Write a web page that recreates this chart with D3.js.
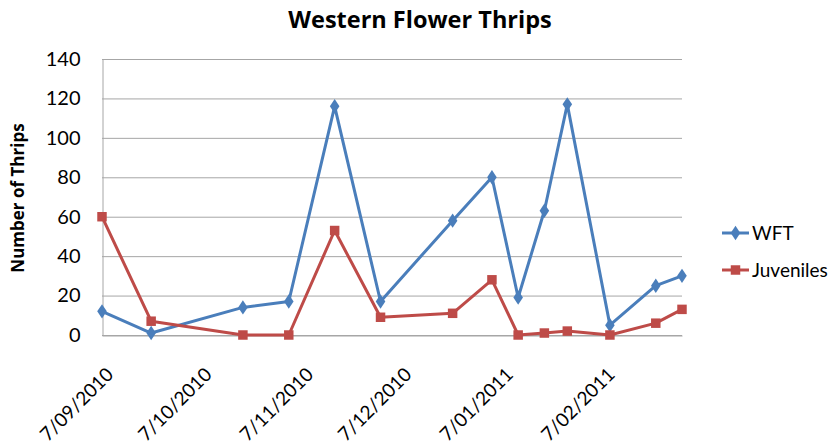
<!DOCTYPE html>
<html>
<head>
<meta charset="utf-8">
<script src="https://cdn.jsdelivr.net/npm/d3@7"></script>
<style>
  html, body { margin: 0; padding: 0; background: #fff; }
  svg { display: block; font-family: Lato, "Open Sans", sans-serif; }
</style>
</head>
<body>
<svg id="chart" width="840" height="448"></svg>
<script>
// Sampling dates (d/mm/yyyy) and thrip counts per sample
const sampleDates = ["7/09/2010", "22/09/2010", "20/10/2010", "3/11/2010", "17/11/2010",
  "1/12/2010", "23/12/2010", "4/01/2011", "12/01/2011", "20/01/2011", "27/01/2011",
  "9/02/2011", "23/02/2011", "3/03/2011"];
const wftCounts = [12, 1, 14, 17, 116, 17, 58, 80, 19, 63, 117, 5, 25, 30];
const juvenileCounts = [60, 7, 0, 0, 53, 9, 11, 28, 0, 1, 2, 0, 6, 13];
const xTickLabels = ["7/09/2010", "7/10/2010", "7/11/2010", "7/12/2010", "7/01/2011", "7/02/2011"];
const yTickValues = [0, 20, 40, 60, 80, 100, 120, 140];
const seriesNames = ["WFT", "Juveniles"];

const parse = d3.utcParse("%d/%m/%Y");
const dates = sampleDates.map(parse);

const margin = { left: 102, right: 158, top: 59, bottom: 113 };
const width = 840, height = 448;
const svg = d3.select("#chart");

const x = d3.scaleUtc()
  .domain([dates[0], dates[dates.length - 1]])
  .range([margin.left, width - margin.right]);
const y = d3.scaleLinear()
  .domain([0, 140])
  .range([height - margin.bottom, margin.top]);

// Horizontal gridlines
svg.append("g")
  .selectAll("line")
  .data(yTickValues)
  .join("line")
  .attr("x1", margin.left)
  .attr("x2", width - margin.right)
  .attr("y1", d => y(d) + 0.5)
  .attr("y2", d => y(d) + 0.5)
  .attr("stroke", "#a6a6a6")
  .attr("stroke-width", 1);

// Y axis
const yAxis = svg.append("g")
  .attr("transform", `translate(${margin.left + 0.5},0)`)
  .call(d3.axisLeft(y).tickValues(yTickValues).tickSize(0).tickPadding(22));
yAxis.select(".domain").attr("stroke", "#a6a6a6");
yAxis.selectAll("text")
  .attr("font-size", 20)
  .attr("fill", "#000")
  .attr("font-family", "Lato, sans-serif");

// X axis with monthly ticks
const xTicks = xTickLabels.map(parse);
const xAxis = svg.append("g")
  .attr("transform", `translate(0,${y(0) + 0.5})`)
  .call(d3.axisBottom(x).tickValues(xTicks).tickSize(0)
    .tickFormat((d, i) => xTickLabels[i]));
xAxis.select(".domain").attr("stroke", "#a6a6a6");
xAxis.selectAll("text")
  .attr("font-size", 19)
  .attr("fill", "#000")
  .attr("font-family", "Lato, sans-serif")
  .attr("text-anchor", "end")
  .attr("dy", 0)
  .attr("transform", "translate(10,38) rotate(-45)");

// Series
const series = [
  { name: seriesNames[0], values: wftCounts, color: "#4a7ebb", symbol: d3.symbolDiamond, size: 60 },
  { name: seriesNames[1], values: juvenileCounts, color: "#be4b48", symbol: d3.symbolSquare, size: 90 }
];

const line = d3.line()
  .x((d, i) => x(dates[i]))
  .y(d => y(d));

series.forEach(s => {
  const g = svg.append("g");
  g.append("path")
    .datum(s.values)
    .attr("d", line)
    .attr("fill", "none")
    .attr("stroke", s.color)
    .attr("stroke-width", 3)
    .attr("stroke-linejoin", "round");
  g.selectAll("path.marker")
    .data(s.values)
    .join("path")
    .attr("class", "marker")
    .attr("d", d3.symbol().type(s.symbol).size(s.size))
    .attr("transform", (d, i) => `translate(${x(dates[i])},${y(d)})` +
      (s.symbol === d3.symbolDiamond ? " scale(1.15,1)" : ""))
    .attr("fill", s.color);
});

// Title
svg.append("text")
  .attr("x", 420)
  .attr("y", 28)
  .attr("text-anchor", "middle")
  .attr("font-family", "'Open Sans', sans-serif")
  .attr("font-size", 23.5)
  .attr("font-weight", "bold")
  .text("Western Flower Thrips");

// Y axis title
svg.append("text")
  .attr("transform", `translate(24,${(margin.top + y(0)) / 2 + 1}) rotate(-90)`)
  .attr("text-anchor", "middle")
  .attr("font-family", "'Open Sans', sans-serif")
  .attr("font-size", 17)
  .attr("font-weight", "bold")
  .text("Number of Thrips");

// Legend
const legend = svg.append("g");
series.forEach((s, i) => {
  const ly = 233 + i * 37;
  legend.append("line")
    .attr("x1", 722).attr("x2", 749)
    .attr("y1", ly).attr("y2", ly)
    .attr("stroke", s.color).attr("stroke-width", 3);
  legend.append("path")
    .attr("d", d3.symbol().type(s.symbol).size(s.size)())
    .attr("transform", `translate(735.5,${ly})` + (s.symbol === d3.symbolDiamond ? " scale(1.15,1)" : ""))
    .attr("fill", s.color);
  legend.append("text")
    .attr("x", 752)
    .attr("y", ly + 7)
    .attr("font-size", 19)
    .text(s.name);
});
</script>
</body>
</html>
